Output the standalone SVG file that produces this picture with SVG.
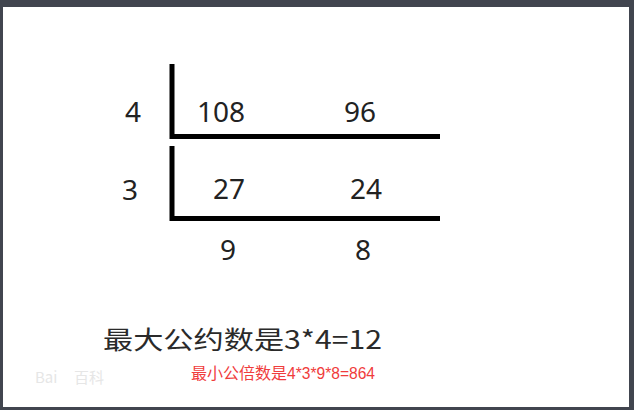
<svg xmlns="http://www.w3.org/2000/svg" width="634" height="410" viewBox="0 0 634 410">
<style>
.num{font-family:"Noto Sans","Liberation Sans",sans-serif;font-size:28px;fill:#222;text-anchor:middle}
.bar{stroke:#000;stroke-width:5;fill:none}
</style>
<rect x="0" y="0" width="634" height="410" fill="#41454f"/>
<rect x="3" y="7" width="626" height="400" fill="#ffffff"/>
<g id="connectors">
<path class="bar" d="M172 64 V136.5 H440"/>
<path class="bar" d="M172 146 V218.5 H440"/>
</g>
<g id="row1">
<text class="num" x="133" y="122">4</text>
<text class="num" x="221" y="122">108</text>
<text class="num" x="360" y="122">96</text>
</g>
<g id="row2">
<text class="num" x="130" y="200">3</text>
<text class="num" x="229" y="199">27</text>
<text class="num" x="366" y="199">24</text>
</g>
<g id="row3">
<text class="num" x="228" y="260">9</text>
<text class="num" x="363" y="260">8</text>
</g>
<g id="gcd">
<text x="103" y="349" font-family="Noto Sans CJK SC,sans-serif" font-size="25" fill="#2a2a2a" textLength="279" lengthAdjust="spacingAndGlyphs">最大公约数是3*4=12</text>
</g>
<g id="lcm">
<text y="379" font-family="Noto Sans CJK SC,sans-serif" font-size="16" fill="#f03c3c"><tspan x="191">最小公倍数是</tspan><tspan font-family="Liberation Sans Narrow,Liberation Sans,sans-serif" x="287" textLength="88" lengthAdjust="spacingAndGlyphs">4*3*9*8=864</tspan></text>
</g>
<text y="383" font-family="Noto Sans CJK SC,sans-serif" font-size="15" fill="#e6e6e6"><tspan x="35">Bai</tspan><tspan x="74">百科</tspan></text>
</svg>
